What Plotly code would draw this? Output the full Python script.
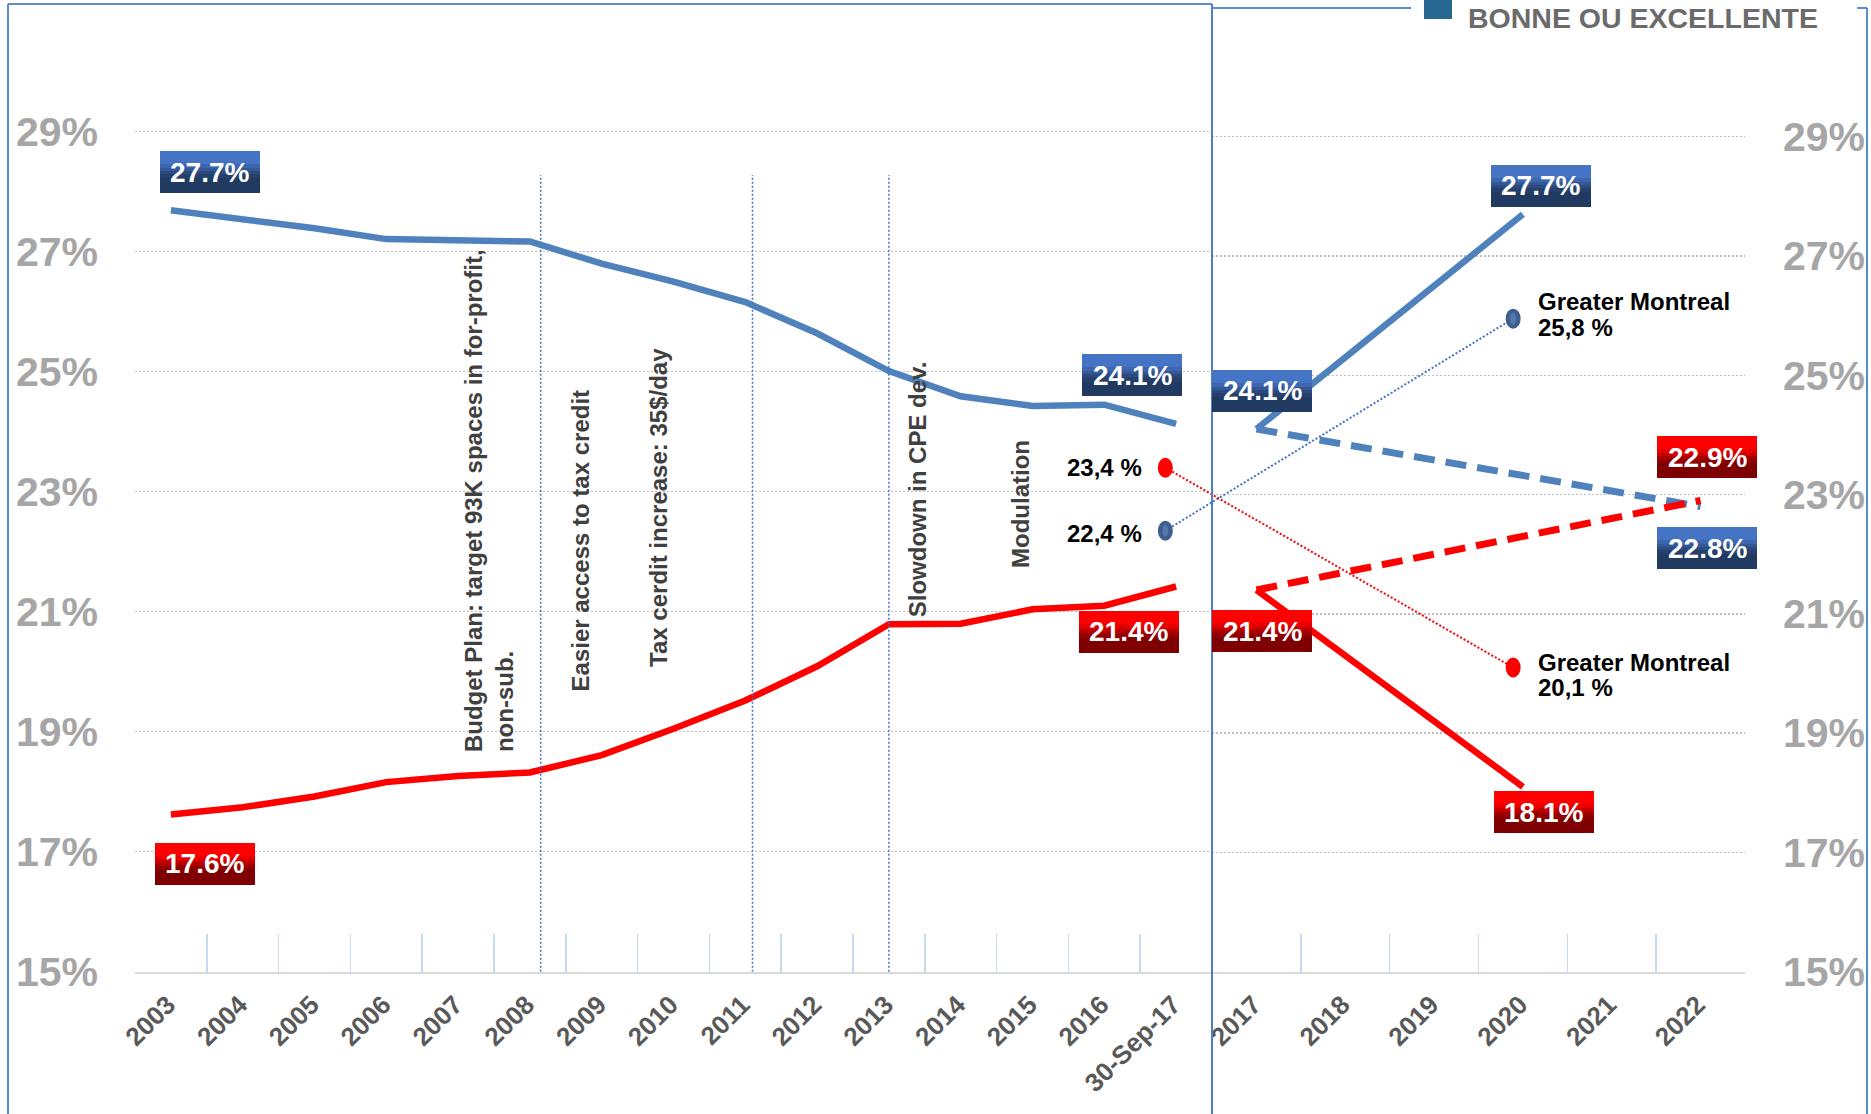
import plotly.graph_objects as go

W, H = 1871, 1114
FONT = "Liberation Sans, Arial, sans-serif"

# ---------------- data ----------------
left_years = ["2003", "2004", "2005", "2006", "2007", "2008", "2009", "2010",
              "2011", "2012", "2013", "2014", "2015", "2016", "30-Sep-17"]
left_blue = [27.69, 27.55, 27.39, 27.21, 27.18, 27.17, 26.80, 26.50,
             26.16, 25.64, 25.01, 24.59, 24.43, 24.45, 24.13]
left_red = [17.62, 17.74, 17.92, 18.16, 18.26, 18.32, 18.61, 19.05,
            19.52, 20.09, 20.79, 20.80, 21.04, 21.10, 21.42]

right_years = ["2017", "2018", "2019", "2020", "2021", "2022"]
blue_solid_x = ["2017", "2020"]
blue_solid_y = [24.1, 27.7]
red_solid_x = ["2017", "2020"]
red_solid_y = [21.4, 18.1]
blue_dash_x = ["2017", "2022"]
blue_dash_y = [24.1, 22.8]
red_dash_x = ["2017", "2022"]
red_dash_y = [21.4, 22.9]

y_ticks = [15, 17, 19, 21, 23, 25, 27, 29]
y_ticktext = ["15%", "17%", "19%", "21%", "23%", "25%", "27%", "29%"]

# Greater Montreal comparison points (category index positions)
gm_left_x = 13.85
gm_left_red = 23.4
gm_left_blue = 22.35
gm_left_red_label = "23,4 %"
gm_left_blue_label = "22,4 %"
gm_right_x = 2.89
gm_right_blue = 25.95
gm_right_red = 20.1
gm_right_blue_label = "25,8 %"
gm_right_red_label = "20,1 %"
gm_name = "Greater Montreal"

# policy events (category index positions on the left axis)
event_lines_x = [5.15, 8.10, 10.0]
event_lines_top = 28.28
event_texts = ["Budget Plan: target 93K spaces in for-profit,<br>non-sub.",
               "Easier access to tax credit",
               "Tax cerdit increase: 35$/day",
               "Slowdown in CPE dev.",
               "Modulation"]
event_text_x = [4.44, 5.70, 6.78, 10.41, 11.83]
event_text_y = [18.63, 19.64, 20.05, 20.88, 21.70]

# value labels: (panel, category, value, text, colour, dx, dy)
value_labels = [
    ("L", "2003", 27.7, "27.7%", "blue", 38.6, -37.7),
    ("L", "2003", 17.6, "17.6%", "red", 34.0, 48.0),
    ("L", "30-Sep-17", 24.1, "24.1%", "blue", -44.0, -50.5),
    ("L", "30-Sep-17", 21.4, "21.4%", "red", -47.6, 43.8),
    ("R", "2017", 24.1, "24.1%", "blue", 5.6, -38.3),
    ("R", "2017", 21.4, "21.4%", "red", 5.6, 41.2),
    ("R", "2020", 27.7, "27.7%", "blue", 17.6, -28.3),
    ("R", "2020", 18.1, "18.1%", "red", 20.9, 25.2),
    ("R", "2022", 22.9, "22.9%", "red", 6.5, -43.5),
    ("R", "2022", 22.8, "22.8%", "blue", 6.6, 41.7),
]

legend_text = "BONNE OU EXCELLENTE"

# ---------------- layout geometry ----------------
LX = [135 / W, 1212 / W]
RX = [1212 / W, 1745 / W]
YD = [1 - 971.7 / H, 1.0]
L_XR = [-0.5, 14.5]
R_XR = [-0.5, 5.5]
L_YR = [15, 15 + 971.7 / 60.0]
R_YR = [15, 15 + 971.7 / 59.64]

BLUE = "#4f81bd"
RED = "#ff0000"

def to_paper(xi, yv, xd, xr, yd, yr):
    px = xd[0] + (xi - xr[0]) / (xr[1] - xr[0]) * (xd[1] - xd[0])
    py = yd[0] + (yv - yr[0]) / (yr[1] - yr[0]) * (yd[1] - yd[0])
    return px, py

fig = go.Figure()

def line(x, y, color, xa, ya, dash=None, width=6.5):
    fig.add_trace(go.Scatter(x=x, y=y, xaxis=xa, yaxis=ya, mode="lines",
                             line=dict(color=color, width=width, dash=dash),
                             hoverinfo="skip", showlegend=False))

line(left_years, left_blue, BLUE, "x", "y")
line(left_years, left_red, RED, "x", "y")
line(blue_dash_x, blue_dash_y, BLUE, "x2", "y2", dash="21px,11px", width=7)
line(red_dash_x, red_dash_y, RED, "x2", "y2", dash="21px,11px", width=7)
line(blue_solid_x, blue_solid_y, BLUE, "x2", "y2")
line(red_solid_x, red_solid_y, RED, "x2", "y2")

shapes = []
# event dotted lines
for ex in event_lines_x:
    shapes.append(dict(type="line", xref="x", yref="y", x0=ex, x1=ex, y0=15,
                       y1=event_lines_top,
                       line=dict(color="#4472c4", width=1.5, dash="2px,2px")))

# connectors between the two panels (paper coordinates derived from axes)
for (ly, ry, col) in [(gm_left_blue, gm_right_blue, "#4472c4"),
                      (gm_left_red, gm_right_red, RED)]:
    p0 = to_paper(gm_left_x, ly, LX, L_XR, YD, L_YR)
    p1 = to_paper(gm_right_x, ry, RX, R_XR, YD, R_YR)
    shapes.append(dict(type="line", xref="paper", yref="paper",
                       x0=p0[0], y0=p0[1], x1=p1[0], y1=p1[1],
                       line=dict(color=col, width=2, dash="2px,2px")))

def dot(xref, yref, x, y, color, inner=None):
    shapes.append(dict(type="circle", xref=xref, yref=yref, xsizemode="pixel",
                       ysizemode="pixel", xanchor=x, yanchor=y, x0=-7.5, x1=7.5,
                       y0=-10, y1=10, fillcolor=color, line=dict(width=0)))
    if inner:
        shapes.append(dict(type="circle", xref=xref, yref=yref, xsizemode="pixel",
                           ysizemode="pixel", xanchor=x, yanchor=y, x0=-3, x1=3,
                           y0=-6, y1=6, fillcolor=inner, line=dict(width=0)))

dot("x", "y", gm_left_x, gm_left_red, RED)
dot("x", "y", gm_left_x, gm_left_blue, "#3c5f8f", "#5577aa")
dot("x2", "y2", gm_right_x, gm_right_blue, "#3c5f8f", "#5577aa")
dot("x2", "y2", gm_right_x, gm_right_red, RED)

FR = "#5b8bd0"
def pline(x0, y0, x1, y1, color=FR, w=2):
    shapes.append(dict(type="line", xref="paper", yref="paper",
                       x0=x0 / W, x1=x1 / W, y0=1 - y0 / H, y1=1 - y1 / H,
                       line=dict(color=color, width=w)))

# frames
pline(8, 4, 8, H)
pline(8, 4, 1212, 4)
pline(1212, 4, 1212, H, "#4f7fc0", 2)
pline(1212, 8, 1411, 8)
pline(1857, 8, 1867, 8)
pline(1867, 8, 1867, H)
# legend square
shapes.append(dict(type="rect", xref="paper", yref="paper", x0=1424 / W, x1=1452 / W,
                   y0=1 - 19 / H, y1=1.02, fillcolor="#276892", line=dict(width=0)))

annotations = []

BOX_W, BOX_H = 100, 42
BLUE_STRIPS = [(0, 13, "#4574c4"), (13, 4, "#3d66ae"), (17, 3, "#345896"),
               (20, 3, "#2c4a7e"), (23, 4, "#25406c"), (27, 15, "#203a62")]
RED_STRIPS = [(0, 13, "#ff0000"), (13, 4, "#e60000"), (17, 3, "#c80000"),
              (20, 3, "#aa0000"), (23, 4, "#900000"), (27, 15, "#7f0000")]

for panel, cat, val, txt, kind, dx, dy in value_labels:
    if panel == "L":
        xr, yr, cx = "x", "y", left_years.index(cat)
    else:
        xr, yr, cx = "x2", "y2", right_years.index(cat)
    strips = BLUE_STRIPS if kind == "blue" else RED_STRIPS
    for top, h, col in strips:
        hh = h + (1 if top + h < BOX_H else 0)
        cy = dy - BOX_H / 2 + top + hh / 2
        annotations.append(dict(xref=xr, yref=yr, x=cx, y=val, text=" ",
                                showarrow=False, width=BOX_W, height=hh,
                                bgcolor=col, borderpad=0, borderwidth=0,
                                xanchor="center", yanchor="middle",
                                xshift=dx, yshift=-cy, font=dict(size=1)))
    annotations.append(dict(xref=xr, yref=yr, x=cx, y=val, text=txt,
                            showarrow=False, xanchor="center", yanchor="middle",
                            xshift=dx, yshift=-dy,
                            font=dict(size=28, color="white", family=FONT,
                                      weight="bold")))

# event texts
for t, ex, ey in zip(event_texts, event_text_x, event_text_y):
    annotations.append(dict(xref="x", yref="y", x=ex, y=ey, text=t, textangle=-90,
                            showarrow=False, xanchor="center", yanchor="bottom",
                            align="left",
                            font=dict(size=24, color="#404040", family=FONT,
                                      weight="bold")))

GMF = dict(size=24, color="black", family=FONT, weight="bold")
annotations.append(dict(xref="x", yref="y", x=gm_left_x, y=gm_left_red,
                        text=gm_left_red_label, showarrow=False, xanchor="right",
                        yanchor="middle", xshift=-21, yshift=0, font=GMF))
annotations.append(dict(xref="x", yref="y", x=gm_left_x, y=gm_left_blue,
                        text=gm_left_blue_label, showarrow=False, xanchor="right",
                        yanchor="middle", xshift=-21, yshift=-2.5, font=GMF))
for yv, lab, s1, s2 in [(gm_right_blue, gm_right_blue_label, 17.4, -8.6),
                        (gm_right_red, gm_right_red_label, 5.5, -19.5)]:
    annotations.append(dict(xref="x2", yref="y2", x=gm_right_x, y=yv, text=gm_name,
                            showarrow=False, xanchor="left", yanchor="middle",
                            xshift=23, yshift=s1, font=GMF))
    annotations.append(dict(xref="x2", yref="y2", x=gm_right_x, y=yv, text=lab,
                            showarrow=False, xanchor="left", yanchor="middle",
                            xshift=23, yshift=s2, font=GMF))

annotations.append(dict(xref="paper", yref="paper", x=1466 / W, y=1, text=legend_text,
                        showarrow=False, xanchor="left", yanchor="top", yshift=0,
                        font=dict(size=28.5, color="#6b6b6b", family=FONT,
                                  weight="bold")))

XT = dict(size=26, color="#595959", family=FONT, weight="bold")
YT = dict(size=41, color="#a6a6a6", family=FONT, weight="bold")
common_x = dict(type="category", tickson="boundaries", ticks="inside", ticklen=38,
                tickcolor="#c6d9f1", tickwidth=1.5, showline=True,
                linecolor="#d9d9d9", linewidth=2.5, showgrid=False, zeroline=False,
                tickangle=-45, tickfont=XT, fixedrange=True, automargin=False,
                ticklabelstandoff=5, ticklabelshift=-3)
common_y = dict(tickmode="array", tickvals=y_ticks, ticktext=y_ticktext,
                showgrid=True, gridcolor="#bfbfbf", griddash="2px,2px",
                gridwidth=1.5, zeroline=False, showline=False, ticks="",
                tickfont=YT, fixedrange=True, automargin=False)

fig.update_layout(
    template="none",
    width=W, height=H, margin=dict(l=0, r=0, t=0, b=0, pad=0, autoexpand=False),
    paper_bgcolor="white", plot_bgcolor="white", showlegend=False,
    font=dict(family=FONT),
    xaxis=dict(domain=LX, range=L_XR, anchor="y", categoryorder="array",
               categoryarray=left_years, **common_x),
    xaxis2=dict(domain=RX, range=R_XR, anchor="y2", categoryorder="array",
                categoryarray=right_years, **common_x),
    yaxis=dict(domain=YD, range=L_YR, anchor="x", side="left",
               ticklabelstandoff=36, **common_y),
    yaxis2=dict(domain=YD, range=R_YR, anchor="x2", side="right",
                ticklabelstandoff=37, **common_y),
    shapes=shapes, annotations=annotations,
)

fig.write_html("out.html",
               config={"displayModeBar": False, "staticPlot": True},
               post_script="document.body.style.margin='0px';"
                           "document.body.style.overflow='hidden';")
